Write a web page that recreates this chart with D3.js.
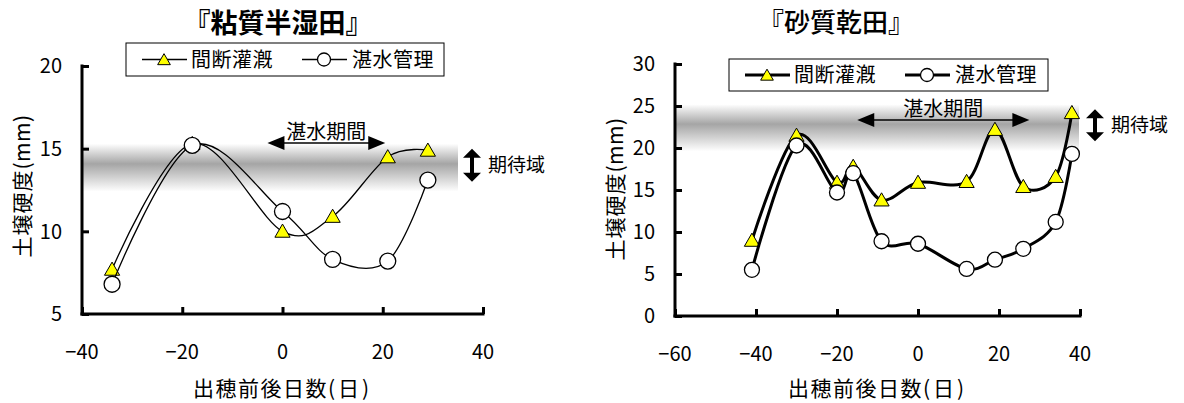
<!DOCTYPE html>
<html><head><meta charset="utf-8">
<script src="https://cdn.jsdelivr.net/npm/d3@7/dist/d3.min.js"></script>
<style>
html,body{margin:0;padding:0;background:#fff;}
svg{display:block;font-family:"Noto Sans CJK JP","Noto Sans",sans-serif;}
</style></head>
<body>
<svg id="c" width="1184" height="403"></svg>
<script>
// ---- data ----
const seriesNames = ["間断灌漑", "湛水管理"];
const leftTitle = "『粘質半湿田』";
const rightTitle = "『砂質乾田』";
const xTitleMain = "出穂前後日数";
const xTitleUnit = "(日)";
const yTitleMain = "土壌硬度";
const yTitleUnit = "(mm)";
const floodLabel = "湛水期間";
const expectLabel = "期待域";

const leftDays = [-34, -18, 0, 10, 21, 29];
const leftIntermittent = [7.7, 15.3, 10.0, 10.9, 14.5, 14.9];
const leftFlooded = [6.8, 15.2, 11.2, 8.3, 8.2, 13.1];
const leftXTicks = [-40, -20, 0, 20, 40];
const leftYTicks = [5, 10, 15, 20];
const leftBand = [12.4, 15.3];
const leftFloodPeriod = [-3, 20.5];

const rightDays = [-41, -30, -20, -16, -9, 0, 12, 19, 26, 34, 38];
const rightIntermittent = [9.0, 21.5, 15.9, 17.8, 13.8, 15.9, 16.0, 22.2, 15.4, 16.6, 24.2];
const rightFlooded = [5.5, 20.3, 14.7, 17.0, 8.9, 8.6, 5.6, 6.7, 8.0, 11.2, 19.3];
const rightXTicks = [-60, -40, -20, 0, 20, 40];
const rightYTicks = [0, 5, 10, 15, 20, 25, 30];
const rightBand = [19.6, 25.2];
const rightFloodPeriod = [-15, 27.5];

const svg = d3.select("#c");
const defs = svg.append("defs");
const grad = defs.append("linearGradient").attr("id","band").attr("x1",0).attr("y1",0).attr("x2",0).attr("y2",1);
grad.append("stop").attr("offset","0%").attr("stop-color","#ffffff");
grad.append("stop").attr("offset","42%").attr("stop-color","#a5a5a5");
grad.append("stop").attr("offset","100%").attr("stop-color","#ffffff");
const fmt = d => d < 0 ? "\u2212" + Math.abs(d) : String(d);

function twoPart(sel, main, unit, size, spacing, unitSpacing) {
  sel.attr("font-size", size);
  sel.append("tspan").attr("letter-spacing", spacing).text(main);
  sel.append("tspan").attr("letter-spacing", unitSpacing).text(unit);
}

function drawChart(o) {
  const g = svg.append("g");
  const x = d3.scaleLinear().domain(o.xDomain).range(o.xRange);
  const y = d3.scaleLinear().domain(o.yDomain).range(o.yRange);

  // expected band
  g.append("rect")
    .attr("x", o.xRange[0]).attr("width", o.bandRight - o.xRange[0])
    .attr("y", y(o.band[1])).attr("height", y(o.band[0]) - y(o.band[1]))
    .attr("fill", "url(#band)");

  // axes
  const tickLen = 7;
  const yAx = g.append("g").attr("transform", `translate(${o.xRange[0]},0)`)
    .call(d3.axisRight(y).tickValues(o.yTicks).tickSize(tickLen).tickFormat(""));
  const xAx = g.append("g").attr("transform", `translate(0,${o.yRange[0]})`)
    .call(d3.axisTop(x).tickValues(o.xTicks).tickSize(tickLen).tickFormat(""));
  [yAx, xAx].forEach(a => {
    a.select(".domain").remove();
    a.selectAll(".tick line").attr("stroke", "#000").attr("stroke-width", 3);
  });
  g.append("line").attr("x1", o.xRange[0]).attr("x2", o.xRange[0])
    .attr("y1", o.yRange[0]+1.5).attr("y2", o.yRange[1]-1.5).attr("stroke","#000").attr("stroke-width",3);
  g.append("line").attr("x1", o.xRange[0]-1.5).attr("x2", o.xRange[1]+1.5)
    .attr("y1", o.yRange[0]).attr("y2", o.yRange[0]).attr("stroke","#000").attr("stroke-width",3);

  // tick labels
  g.selectAll(".yl").data(o.yTicks).enter().append("text")
    .attr("x", o.xRange[0] - 20).attr("y", d => y(d)).attr("dy", "0.36em")
    .attr("text-anchor", "end").attr("font-size", 20).text(fmt);
  g.selectAll(".xl").data(o.xTicks).enter().append("text")
    .attr("x", d => x(d)).attr("y", o.yRange[0] + 38).attr("dy", "0.36em")
    .attr("text-anchor", "middle").attr("font-size", 20).text(fmt);

  // axis titles
  const xt = g.append("text").attr("x", (o.xRange[0]+o.xRange[1])/2).attr("y", 388).attr("dy","0.36em")
    .attr("text-anchor","middle");
  twoPart(xt, xTitleMain, xTitleUnit, 21, 1.5, 3);
  const yt = g.append("text").attr("transform", `translate(${o.yTitleX},${o.yTitleY}) rotate(-90)`)
    .attr("dy","0.36em").attr("text-anchor","middle");
  twoPart(yt, yTitleMain, yTitleUnit, 21, 1, 0.5);

  // title
  g.append("text").attr("x", o.titleX).attr("y", 23).attr("dy","0.36em")
    .attr("text-anchor","middle").attr("font-size",o.titleSize).attr("font-weight", o.titleWeight).text(o.title);

  // flood period arrow
  const ay = o.floodArrowY;
  const x0 = x(o.floodPeriod[0]), x1 = x(o.floodPeriod[1]);
  g.append("line").attr("x1", x0+10).attr("x2", x1-10).attr("y1", ay).attr("y2", ay)
    .attr("stroke","#000").attr("stroke-width",1.5);
  g.append("path").attr("d", `M${x0},${ay}L${x0+17},${ay-7}L${x0+17},${ay+7}Z`).attr("fill","#000");
  g.append("path").attr("d", `M${x1},${ay}L${x1-17},${ay-7}L${x1-17},${ay+7}Z`).attr("fill","#000");
  g.append("text").attr("x", (x0+x1)/2).attr("y", ay - 11).attr("dy","0.36em")
    .attr("text-anchor","middle").attr("font-size",20).text(floodLabel);

  // expectation double arrow
  const ex = o.expectX, ey0 = y(o.band[1]) + 5, ey1 = y(o.band[0]) - 10;
  g.append("rect").attr("x", ex-2).attr("y", ey0+8).attr("width",4).attr("height", ey1-ey0-16).attr("fill","#000");
  g.append("path").attr("d", `M${ex},${ey0}L${ex+9},${ey0+9}L${ex-9},${ey0+9}Z`).attr("fill","#000");
  g.append("path").attr("d", `M${ex},${ey1}L${ex+9},${ey1-9}L${ex-9},${ey1-9}Z`).attr("fill","#000");
  g.append("text").attr("x", ex + 16).attr("y", (ey0+ey1)/2).attr("dy","0.36em")
    .attr("font-size",19).text(expectLabel);

  // series
  const line = d3.line().x(d => x(d[0])).y(d => y(d[1])).curve(d3.curveCardinal.tension(0));
  const tri = d3.symbol().type(d3.symbolTriangle).size(o.triSize);
  const s1 = o.days.map((d,i) => [d, o.s1[i]]);
  const s2 = o.days.map((d,i) => [d, o.s2[i]]);
  g.append("path").datum(s1).attr("d", line).attr("fill","none").attr("stroke","#000").attr("stroke-width", o.lw);
  g.selectAll(".t").data(s1).enter().append("path")
    .attr("transform", d => `translate(${x(d[0])},${y(d[1])+1.5})`).attr("d", tri)
    .attr("fill","#ffff00").attr("stroke","#000").attr("stroke-width",1);
  g.append("path").datum(s2).attr("d", line).attr("fill","none").attr("stroke","#000").attr("stroke-width", o.lw);
  g.selectAll(".c").data(s2).enter().append("circle")
    .attr("cx", d => x(d[0])).attr("cy", d => y(d[1])).attr("r", o.r)
    .attr("fill","#fff").attr("stroke","#000").attr("stroke-width",1.3);

  // legend
  const L = o.legend;
  g.append("rect").attr("x", L.x).attr("y", L.y).attr("width", L.w).attr("height", L.h)
    .attr("fill","#fff").attr("stroke","#000").attr("stroke-width",1);
  const ly = L.y + L.h/2;
  g.append("line").attr("x1", L.x+16).attr("x2", L.x+61).attr("y1", ly).attr("y2", ly)
    .attr("stroke","#000").attr("stroke-width", o.lw);
  g.append("path").attr("transform", `translate(${L.x+38},${ly+1.5})`)
    .attr("d", d3.symbol().type(d3.symbolTriangle).size(o.triSize*0.7))
    .attr("fill","#ffff00").attr("stroke","#000").attr("stroke-width",1);
  g.append("text").attr("x", L.x+65).attr("y", ly).attr("dy","0.36em").attr("font-size",20)
    .attr("letter-spacing", 0.5).text(seriesNames[0]);
  g.append("line").attr("x1", L.x+L.item2).attr("x2", L.x+L.item2+45).attr("y1", ly).attr("y2", ly)
    .attr("stroke","#000").attr("stroke-width", o.lw);
  g.append("circle").attr("cx", L.x+L.item2+22).attr("cy", ly).attr("r", 6.5)
    .attr("fill","#fff").attr("stroke","#000").attr("stroke-width",1.3);
  g.append("text").attr("x", L.x+L.item2+50).attr("y", ly).attr("dy","0.36em").attr("font-size",20)
    .attr("letter-spacing", 0.5).text(seriesNames[1]);
}

drawChart({
  title: leftTitle, titleX: 278, titleWeight: "bold", titleSize: 27,
  xDomain: [-40, 40], xRange: [82, 483],
  yDomain: [5, 20], yRange: [314, 66],
  xTicks: leftXTicks, yTicks: leftYTicks,
  band: leftBand, bandRight: 458,
  floodPeriod: leftFloodPeriod, floodArrowY: 143,
  expectX: 472,
  days: leftDays, s1: leftIntermittent, s2: leftFlooded,
  lw: 1.3, r: 8, triSize: 100,
  yTitleX: 22, yTitleY: 186,
  legend: {x: 126, y: 43, w: 318, h: 33, item2: 176}
});
drawChart({
  title: rightTitle, titleX: 836, titleWeight: "500", titleSize: 26,
  xDomain: [-60, 40], xRange: [675, 1080],
  yDomain: [0, 30], yRange: [316, 64],
  xTicks: rightXTicks, yTicks: rightYTicks,
  band: rightBand, bandRight: 1079,
  floodPeriod: rightFloodPeriod, floodArrowY: 120,
  expectX: 1095,
  days: rightDays, s1: rightIntermittent, s2: rightFlooded,
  lw: 3, r: 7.5, triSize: 100,
  yTitleX: 615, yTitleY: 189,
  legend: {x: 729, y: 59, w: 319, h: 32, item2: 176}
});
</script>
</body></html>
